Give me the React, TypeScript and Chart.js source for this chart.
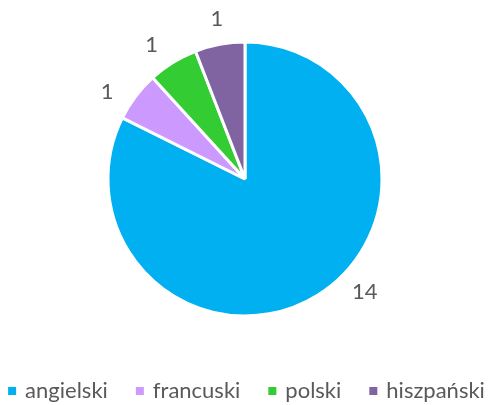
import React, { useEffect, useRef } from "react";
import { Chart, registerables } from "chart.js";

Chart.register(...registerables);

const categories = ["angielski", "francuski", "polski", "hiszpański"];
const values = [14, 1, 1, 1];
const colors = ["#00B0F0", "#CC99FF", "#33CC33", "#8064A2"];
const labelFractions = [0.45, 0.27, 0.35, 0.53];

const FONT = "Lato, 'Open Sans', sans-serif";
const TEXT = "#595959";
const FONT_SIZE = 22;

const outsideLabels = {
  id: "outsideLabels",
  afterDraw(chart: any) {
    const ctx = chart.ctx;
    const meta = chart.getDatasetMeta(0);
    ctx.save();
    ctx.font = `${FONT_SIZE}px ${FONT}`;
    ctx.fillStyle = TEXT;
    ctx.textAlign = "center";
    ctx.textBaseline = "middle";
    meta.data.forEach((arc: any, i: number) => {
      const p = arc.getProps(["x", "y", "startAngle", "endAngle", "outerRadius"], true);
      const f = labelFractions[i];
      const a = p.startAngle + (p.endAngle - p.startAngle) * f;
      const r = p.outerRadius + (i === 0 ? 28 : 26);
      ctx.fillText(String(values[i]), p.x + Math.cos(a) * r, p.y + Math.sin(a) * r);
    });
    ctx.restore();
  },
};

const bottomLegend = {
  id: "bottomLegend",
  afterDraw(chart: any) {
    const ctx = chart.ctx;
    const box = 8;
    const textGap = 9;
    const itemGap = 28;
    ctx.save();
    ctx.font = `${FONT_SIZE}px ${FONT}`;
    ctx.textBaseline = "middle";
    ctx.textAlign = "left";
    const widths = categories.map((c) => ctx.measureText(c).width);
    const total =
      widths.reduce((s, w) => s + w + box + textGap, 0) + itemGap * (categories.length - 1);
    let x = (chart.width - total) / 2;
    const y = chart.height - 14;
    categories.forEach((c, i) => {
      ctx.fillStyle = colors[i];
      ctx.fillRect(x, y - box / 2, box, box);
      x += box + textGap;
      ctx.fillStyle = TEXT;
      ctx.fillText(c, x, y);
      x += widths[i] + itemGap;
    });
    ctx.restore();
  },
};

export default function App() {
  const ref = useRef<HTMLCanvasElement>(null);
  useEffect(() => {
    document.body.style.margin = "0";
    const chart = new Chart(ref.current!, {
      type: "pie",
      data: {
        labels: categories,
        datasets: [
          {
            data: values,
            backgroundColor: colors,
            borderColor: "#FFFFFF",
            borderWidth: 3,
            radius: 137,
          },
        ],
      },
      options: {
        animation: false,
        responsive: false,
        layout: { padding: { top: 0, bottom: 47, left: 0, right: 3 } },
        plugins: {
          tooltip: { enabled: false },
          legend: { display: false },
        },
      },
      plugins: [outsideLabels, bottomLegend],
    });
    return () => chart.destroy();
  }, []);
  return (
    <div style={{ position: "absolute", left: 0, top: 0, width: 493, height: 405, background: "#fff" }}>
      <canvas ref={ref} width={493} height={405} style={{ width: 493, height: 405 }} />
    </div>
  );
}
